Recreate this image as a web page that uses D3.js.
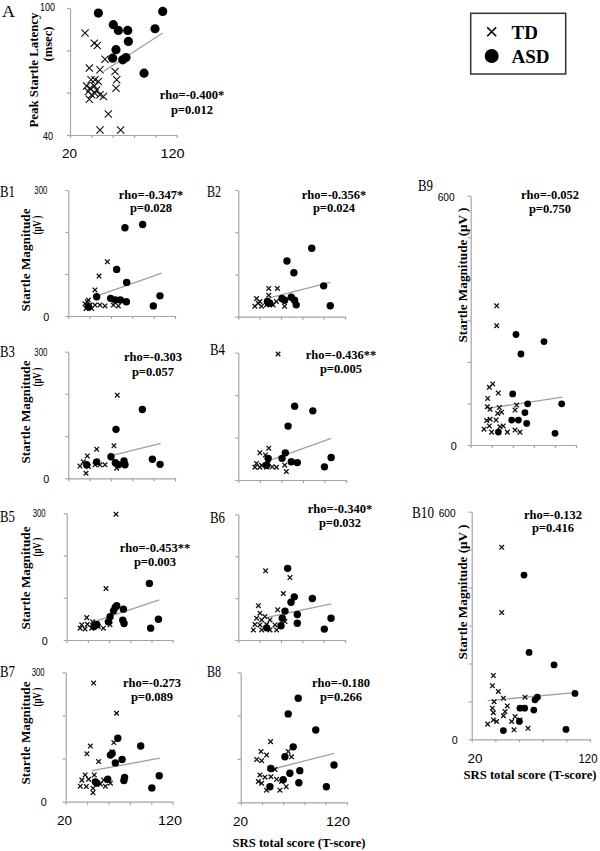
<!DOCTYPE html>
<html><head><meta charset="utf-8">
<script src="https://cdn.jsdelivr.net/npm/d3@7"></script>
<style>body{margin:0;background:#fff}svg{display:block}</style>
</head><body><svg id="c" width="600" height="851"></svg>
<script>
// ---------------- DATA ----------------
const xTickValues = [20, 40, 60, 80, 100, 120];
const xTickLabels = ["20", "120"];
const latencyTicks = [40, 60, 80, 100];
const magTicks300 = [0, 100, 200, 300];
const magTicks600 = [0, 100, 200, 300, 400, 500, 600];

const tdA = [[34.1,88.2],[42.8,83.4],[45.6,82.3],[38.1,71.6],[48.1,70.8],[52.8,75.8],[62.2,70],[63.8,66.1],[63.1,62.1],[39.7,66.1],[43.4,66.1],[46.6,65.3],[35.6,63.2],[38.8,62.1],[42.8,63.2],[45,61.3],[37.2,60.5],[40.3,59],[43.4,59.7],[48.1,59],[51.3,58.2],[38.1,56.9],[55.9,49.9],[48.1,42.4],[67.5,42.4]];
const asdA = [[46.6,97.6],[60.6,92.1],[65.3,89.4],[74.1,89.4],[74.7,84.2],[63.1,80.3],[60,76.3],[69.4,75.5],[72.5,76.6],[89.4,69.2],[99.7,90.2],[106.9,98.4]];
const fitA = [[51.3,70],[106.9,88.2]];

const tdB1 = [[56.6,129],[48.8,95],[45,62],[38.8,38],[35.6,29],[40.3,26],[45,26],[49.7,26],[54.4,24],[36.6,18],[41.9,18],[62.2,26],[66.9,24],[37.8,34]];
const asdB1 = [[73.1,210],[89.7,218],[65.3,111],[74.7,80],[46.6,46],[59.7,42],[64.1,38],[68.8,38],[74.4,34],[105.9,48],[99.7,24],[38.8,22]];
const fitB1 = [[45,46],[107.5,102]];

const tdB2 = [[48.5,67],[56.6,67],[48.5,51],[37.1,43],[40.2,36],[35.5,25],[41.7,25],[46.4,28],[52.6,28],[55.7,36],[63.4,25],[38.6,32]];
const asdB2 = [[88.8,162],[65.6,132],[72.1,104],[100,73],[106.2,26],[60.9,43],[63.4,39],[69.6,46],[72.7,39],[74.3,28],[47.3,36],[49.5,32]];
const fitB2 = [[46.4,43],[106.2,81]];

const tdB3 = [[65.9,197],[62.8,77],[46.6,69],[37.8,53],[34.1,39],[30.9,29],[38.8,28],[45,32],[49.7,32],[54.4,32],[36.6,12],[65.3,24]];
const asdB3 = [[89.4,163],[64.7,116],[60,51],[46.6,39],[64.1,37],[72.2,41],[73.1,32],[66.9,32],[98.8,45],[106,33],[37.2,32]];
const fitB3 = [[62.2,55],[106.6,83]];

const tdB4 = [[56.9,297],[48.3,75],[40,64],[45.2,59],[36.9,39],[41.5,35],[47.7,39],[35.4,30],[40,30],[46.2,30],[51.4,31],[55.4,30],[63.1,35],[64.6,20]];
const asdB4 = [[72.3,174],[89.2,163],[66.2,127],[63.7,64],[60.6,51],[69.2,43],[74.8,41],[47.7,51],[106.2,53],[100,31],[46.2,35]];
const fitB4 = [[49.2,46],[106.2,98]];

const tdB5 = [[66.5,298],[57.1,122],[38.9,53],[34.2,36],[39.5,37],[44.5,43],[48.3,39],[32.6,28],[37.3,26],[43.6,28],[49.9,32],[54.6,28],[60.9,36],[60.9,47]];
const asdB5 = [[98,134],[67.2,81],[65.7,77],[64.2,69],[73.5,73],[60.9,55],[59.3,43],[72.9,47],[74.1,39],[106.5,49],[99.2,28],[45.8,32],[48.3,36]];
const fitB5 = [[45.2,43],[107.4,95]];

const tdB6 = [[45.6,165],[68.4,149],[62.2,111],[56.9,72],[38.8,82],[40.3,64],[45,56],[37.2,52],[41.9,48],[49.7,48],[35.6,37],[40.3,36],[46.6,37],[54.4,36],[34.1,24],[41.9,24],[49.7,24],[55.9,24],[63.75,44]];
const asdB6 = [[66.25,171],[72.5,103],[69.4,90],[89.4,99],[63.75,69],[75.3,61],[61.25,52],[75.3,40],[60,34],[106.9,52],[100.6,26],[46.6,29]];
const fitB6 = [[45,53],[106.9,86]];

const tdB7 = [[46.1,275],[67.5,205],[43,129],[39.8,111],[50.8,93],[65,137],[63.4,116],[38.2,62],[35.1,50],[41.4,52],[46.7,62],[33.6,36],[39.3,35],[45.5,31],[52.4,41],[57.1,36],[61.8,43],[45.5,21],[55.5,50]];
const asdB7 = [[68.7,147],[90.1,129],[63.4,112],[61.8,108],[72.7,98],[66.4,90],[59.3,52],[75,56],[74.4,49],[107.4,60],[100.5,32],[47.7,46],[49.2,43]];
const fitB7 = [[44.5,72],[108,101]];

const tdB8 = [[48.1,140],[39.1,117],[44.4,109],[35,99],[39.7,96],[67.8,105],[64.7,117],[47.5,78],[52.2,76],[38.1,63],[42.8,58],[48.4,59],[53.8,53],[36.6,48],[39.7,44],[58.4,48],[62.8,36],[56.9,28],[44.4,28]];
const asdB8 = [[74.1,240],[64.7,204],[90.6,167],[69.4,128],[61.6,105],[107.8,86],[75.6,73],[66.25,67],[60,52],[74.7,45],[100.6,36],[47.5,36],[48.4,78]];
const fitB8 = [[52.2,78],[107.8,113]];

const tdB9 = [[44.7,335],[44.7,287],[40.9,147],[37.7,139],[46.2,125],[36.1,112],[35.8,92],[38.4,86],[47.2,90],[45.6,76],[49.4,79],[35.2,59],[38.4,62],[44.1,60],[62.1,84],[63.7,96],[32.7,38],[37.7,46],[47.8,44],[50.9,46],[39.9,31],[54.8,31],[62.1,36],[66.8,31]];
const asdB9 = [[63,266],[89.6,249],[67.7,219],[59.9,123],[74.1,99],[106.4,99],[71.5,78],[58.9,60],[65.3,60],[73.2,52],[46.3,31],[100.1,28]];
const fitB9 = [[35.2,88],[107.3,115]];

const tdB10 = [[45.4,506],[45.4,334],[38.3,168],[37.5,141],[42.5,126],[46.8,108],[38.9,99],[65.1,111],[37.5,82],[38.3,70],[50.1,88],[48.2,73],[46.8,62],[56.6,60],[38.3,51],[33.5,40],[41.1,47],[53.8,47],[60.8,51],[55.8,25],[67.6,29]];
const asdB10 = [[64.2,433],[68.5,229],[89.6,196],[107.3,121],[75.5,111],[73.5,104],[72.5,77],[64.8,82],[60.8,82],[60.3,47],[46.8,23],[99.7,26]];
const fitB10 = [[33.5,102],[107.3,123]];

const rhoTexts = ["rho=-0.400*","rho=-0.347*","rho=-0.356*","rho=-0.303","rho=-0.436**","rho=-0.453**","rho=-0.340*","rho=-0.273","rho=-0.180","rho=-0.052","rho=-0.132"];
const pTexts   = ["p=0.012","p=0.028","p=0.024","p=0.057","p=0.005","p=0.003","p=0.032","p=0.089","p=0.266","p=0.750","p=0.416"];
const panelNames = ["A","B1","B2","B3","B4","B5","B6","B7","B8","B9","B10"];
const legendLabels = ["TD","ASD"];

// ---------------- LAYOUT ----------------
const SERIF = "'Liberation Serif','Times New Roman',serif";
const SANS = "'Liberation Sans',Arial,sans-serif";
const AX = "#a5a5a5";
const FIT = "#a0a0a0";

const panels = [
 {td:tdA, asd:asdA, fit:fitA, yDom:[40,100], yTicks:latencyTicks, x0:70, x1:176.7, yT:8, yB:135, lab:[2,17,13], st:[192,99,114], yLab:true, xLab:true, big:true,
  yTickLab:[[55,11,"100",15],[53,140,"40",10]], xLabPos:[[69.5,158],[172.5,158]], xLen:[15,24]},
 {td:tdB1, asd:asdB1, fit:fitB1, yDom:[0,300], yTicks:magTicks300, x0:68.3, x1:175, yT:190, yB:316, lab:[0,197,15], st:[151,199,212], yLab:true, mag:[260,225]},
 {td:tdB2, asd:asdB2, fit:fitB2, yDom:[0,300], yTicks:magTicks300, x0:238.3, x1:345, yT:190, yB:316.7, lab:[207,197,14], st:[334,199,212]},
 {td:tdB3, asd:asdB3, fit:fitB3, yDom:[0,300], yTicks:magTicks300, x0:68.3, x1:175, yT:351.7, yB:478.3, lab:[0,357,15], st:[153,361,376], yLab:true, mag:[412,377]},
 {td:tdB4, asd:asdB4, fit:fitB4, yDom:[0,300], yTicks:magTicks300, x0:238.3, x1:346, yT:352.7, yB:480, lab:[210,355,15], st:[341,359,373]},
 {td:tdB5, asd:asdB5, fit:fitB5, yDom:[0,300], yTicks:magTicks300, x0:66.7, x1:172.7, yT:513.3, yB:640, lab:[0,522,15], st:[155,552,566], yLab:true, mag:[578,547]},
 {td:tdB6, asd:asdB6, fit:fitB6, yDom:[0,300], yTicks:magTicks300, x0:238.3, x1:345, yT:514.3, yB:640, lab:[210,523,15], st:[340,513,527]},
 {td:tdB7, asd:asdB7, fit:fitB7, yDom:[0,300], yTicks:magTicks300, x0:65.7, x1:172.7, yT:672.3, yB:801.7, lab:[0,677,15], st:[152,687,701], yLab:true, mag:[733,697], xLab:true,
  xLabPos:[[64.5,825],[170,825]], xLen:[15,24]},
 {td:tdB8, asd:asdB8, fit:fitB8, yDom:[0,300], yTicks:magTicks300, x0:240.7, x1:347, yT:672.3, yB:802.3, lab:[207,677,14], st:[341,687,701], xLab:true,
  xLabPos:[[240.5,826],[338,826]], xLen:[15,24], xTitle:[299,847]},
 {td:tdB9, asd:asdB9, fit:fitB9, yDom:[0,600], yTicks:magTicks600, x0:470.7, x1:576, yT:195.7, yB:445, lab:[418,191,15], st:[550,199,213], yLab:true, single:[462,275], small:true},
 {td:tdB10, asd:asdB10, fit:fitB10, yDom:[0,600], yTicks:magTicks600, x0:471.7, x1:590, yT:511.7, yB:739.3, lab:[412,518,22], st:[553,519,532], yLab:true, single:[462,592], small:true, xLab:true,
  xLabPos:[[475,763],[588,763]], xLen:[15,19], xTitle:[530,779]}
];

const svg = d3.select("#c");

function txt(x, y, s, o = {}) {
  const t = svg.append("text").attr("x", x).attr("y", y).text(s)
    .attr("font-family", o.family || SERIF)
    .attr("font-size", o.size || 12)
    .attr("font-weight", o.weight || "normal")
    .attr("text-anchor", o.anchor || "start")
    .attr("fill", "#000");
  if (o.len) t.attr("textLength", o.len).attr("lengthAdjust", "spacingAndGlyphs");
  return t;
}
function vtxt(cx, cy, s, o = {}) {
  const t = svg.append("text").text(s)
    .attr("transform", `translate(${cx},${cy}) rotate(-90)`)
    .attr("font-family", SERIF).attr("font-weight", "bold")
    .attr("font-size", o.size || 13).attr("text-anchor", "middle")
    .attr("dominant-baseline", "central").attr("fill", "#000");
  if (o.len) t.attr("textLength", o.len).attr("lengthAdjust", "spacingAndGlyphs");
  return t;
}

panels.forEach((P, i) => {
  const x = d3.scaleLinear().domain([20, 120]).range([P.x0, P.x1]);
  const y = d3.scaleLinear().domain(P.yDom).range([P.yB, P.yT]);
  const g = svg.append("g");

  const xa = g.append("g").attr("transform", `translate(0,${P.yB})`)
    .call(d3.axisBottom(x).tickValues(xTickValues).tickSize(3).tickSizeOuter(0).tickFormat(""));
  const ya = g.append("g").attr("transform", `translate(${P.x0},0)`)
    .call(d3.axisLeft(y).tickValues(P.yTicks).tickSize(3).tickSizeOuter(0).tickFormat(""));
  [xa, ya].forEach(a => { a.selectAll("path,line").attr("stroke", AX).attr("stroke-width", 1.2); a.selectAll("text").remove(); });

  // fit line
  g.append("path").datum(P.fit)
    .attr("d", d3.line().x(d => x(d[0])).y(d => y(d[1])))
    .attr("stroke", FIT).attr("stroke-width", 1.3).attr("fill", "none");

  // TD crosses
  const h = P.big ? 3.6 : 2.3;
  g.selectAll("path.td").data(P.td).join("path").attr("class", "td")
    .attr("transform", d => `translate(${x(d[0])},${y(d[1])})`)
    .attr("d", `M${-h},${-h}L${h},${h}M${-h},${h}L${h},${-h}`)
    .attr("stroke", "#111").attr("stroke-width", P.big ? 1.1 : 1.3).attr("fill", "none");

  // ASD dots
  g.selectAll("circle.asd").data(P.asd).join("circle").attr("class", "asd")
    .attr("cx", d => x(d[0])).attr("cy", d => y(d[1]))
    .attr("r", P.big ? 4.6 : (P.small ? 3.4 : 3.7)).attr("fill", "#000");

  // panel label
  txt(P.lab[0], P.lab[1], panelNames[i], {size: 16, len: P.lab[2]});

  // stats
  txt(P.st[0], P.st[1], rhoTexts[i], {size: 12.5, weight: "bold", anchor: "middle"});
  txt(P.st[0], P.st[2], pTexts[i], {size: 12.5, weight: "bold", anchor: "middle"});

  // y tick labels
  if (P.yTickLab) {
    P.yTickLab.forEach(d => txt(d[0], d[1], d[2], {family: SANS, size: 11.5, anchor: "end", len: d[3]}));
  } else if (P.yLab) {
    const top = P.yDom[1], bot = P.yDom[0];
    const right = P.small ? P.x0 - 16 : P.x0 - 21;
    txt(right, y(top) + (P.small ? 5 : 4), String(top), {family: SANS, size: 11.5, anchor: "end", len: P.small ? 17 : 13});
    txt(right + 2, y(bot) + 4.5, String(bot), {family: SANS, size: 11.5, anchor: "end", len: 6});
  }

  // x tick labels
  if (P.xLab) {
    P.xLabPos.forEach((p, k) => txt(p[0], p[1], xTickLabels[k], {family: SANS, size: 13.5, anchor: "middle", len: P.xLen[k]}));
  }
  if (P.xTitle) {
    txt(P.xTitle[0], P.xTitle[1], "SRS total score (T-score)", {size: 12.5, weight: "bold", anchor: "middle", len: 133});
  }

  // y axis titles
  if (P.big) {
    vtxt(33, 70, "Peak Startle Latency", {len: 115});
    vtxt(47, 44, "(msec)", {len: 35});
  } else if (P.mag) {
    vtxt(25, P.mag[0], "Startle Magnitude", {len: 103});
    vtxt(36, P.mag[1], "(μV )", {len: 19});
  } else if (P.single) {
    vtxt(P.single[0], P.single[1], "Startle Magnitude  (μV )", {len: 135});
  }
});

// legend
svg.append("rect").attr("x", 470.7).attr("y", 13.3).attr("width", 95).attr("height", 60.7)
  .attr("fill", "none").attr("stroke", "#333").attr("stroke-width", 1.5);
svg.append("path").attr("transform", "translate(491.7,31.7)")
  .attr("d", "M-4.5,-4.5L4.5,4.5M-4.5,4.5L4.5,-4.5").attr("stroke", "#000").attr("stroke-width", 1.6);
svg.append("circle").attr("cx", 491.7).attr("cy", 56).attr("r", 7).attr("fill", "#000");
txt(511.5, 38.5, legendLabels[0], {size: 19, weight: "bold"});
txt(511.5, 63, legendLabels[1], {size: 19, weight: "bold"});
</script>
</body></html>
